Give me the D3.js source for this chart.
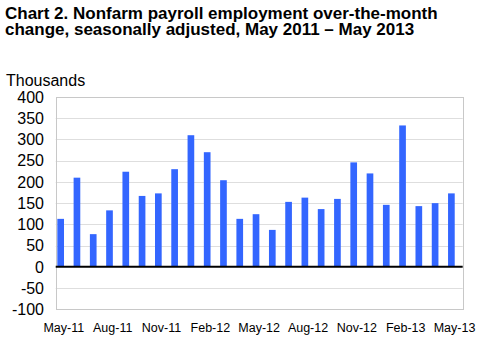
<!DOCTYPE html>
<html>
<head>
<meta charset="utf-8">
<script src="https://cdn.jsdelivr.net/npm/d3@7"></script>
<style>
  body { margin: 0; background: #fff; }
  svg { display: block; font-family: Arial, "Liberation Sans", sans-serif; }
</style>
</head>
<body>
<svg id="chart" width="502" height="364"></svg>
<script>
// over-the-month change, thousands
const months = ["May-11","Jun-11","Jul-11","Aug-11","Sep-11","Oct-11","Nov-11","Dec-11",
  "Jan-12","Feb-12","Mar-12","Apr-12","May-12","Jun-12","Jul-12","Aug-12","Sep-12",
  "Oct-12","Nov-12","Dec-12","Jan-13","Feb-13","Mar-13","Apr-13","May-13"];
const change = [113, 210, 77, 133, 224, 167, 173, 230, 310, 270, 204, 113, 124,
  87, 153, 163, 136, 160, 246, 220, 146, 333, 143, 150, 173];
const yTicks = [-100, -50, 0, 50, 100, 150, 200, 250, 300, 350, 400];
const xTickLabels = ["May-11","Aug-11","Nov-11","Feb-12","May-12","Aug-12","Nov-12","Feb-13","May-13"];

const svg = d3.select("#chart");
const plotL = 55.7, plotR = 462.7, plotT = 97, plotB = 309.3;

const x = d3.scaleBand().domain(months).range([plotL, plotR]).padding(0);
const y = d3.scaleLinear().domain([-100, 400]).range([plotB, plotT]);

// title, two lines
svg.append("text")
  .attr("x", 5).attr("y", 19)
  .style("font-size", "17px").style("font-weight", "bold")
  .text("Chart 2. Nonfarm payroll employment over-the-month");
svg.append("text")
  .attr("x", 5).attr("y", 35)
  .style("font-size", "17px").style("font-weight", "bold")
  .text("change, seasonally adjusted, May 2011 \u2013 May 2013");

svg.append("text")
  .attr("x", 6).attr("y", 86)
  .style("font-size", "16px")
  .text("Thousands");

// gridlines
svg.append("g")
  .selectAll("line")
  .data(yTicks.filter(d => d !== 0 && d !== -100 && d !== 400))
  .join("line")
  .attr("x1", plotL).attr("x2", plotR)
  .attr("y1", d => Math.round(y(d)) + 0.5).attr("y2", d => Math.round(y(d)) + 0.5)
  .attr("stroke", "#dedede");

// plot border
svg.append("rect")
  .attr("x", Math.round(plotL) + 0.5).attr("y", Math.round(plotT) + 0.5)
  .attr("width", Math.round(plotR) - Math.round(plotL)).attr("height", Math.round(plotB) - Math.round(plotT))
  .attr("fill", "none").attr("stroke", "#c8c8c8");

// bars
const bw = x.bandwidth();
svg.append("g")
  .selectAll("rect")
  .data(months.map((m, i) => ({ m, v: change[i] })))
  .join("rect")
  .attr("x", d => x(d.m) + bw * 0.1)
  .attr("width", bw * 0.41)
  .attr("y", d => y(Math.max(0, d.v)))
  .attr("height", d => Math.abs(y(d.v) - y(0)))
  .attr("fill", "#3366ff");

// zero line
svg.append("line")
  .attr("x1", plotL).attr("x2", plotR)
  .attr("y1", y(0)).attr("y2", y(0))
  .attr("stroke", "#000").attr("stroke-width", 2);

// y labels
svg.append("g")
  .selectAll("text")
  .data(yTicks)
  .join("text")
  .attr("x", 44).attr("y", d => y(d))
  .attr("dy", "0.36em")
  .attr("text-anchor", "end")
  .style("font-size", "16px")
  .text(d => d);

// x labels
svg.append("g")
  .selectAll("text")
  .data(xTickLabels)
  .join("text")
  .attr("x", d => x(d) + bw / 2)
  .attr("y", 332)
  .attr("text-anchor", "middle")
  .style("font-size", "12.5px")
  .text(d => d);
</script>
</body>
</html>
